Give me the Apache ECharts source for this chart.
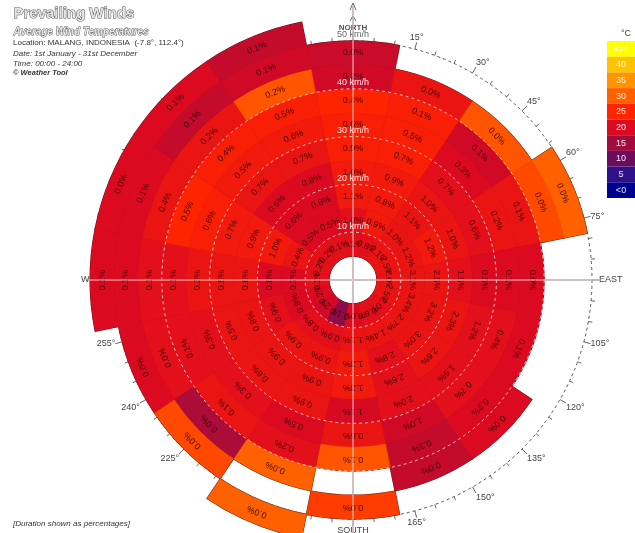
<!DOCTYPE html>
<html>
<head>
<meta charset="utf-8">
<script src="https://cdn.jsdelivr.net/npm/echarts@6/dist/echarts.min.js"></script>
<style>
  html, body { margin: 0; padding: 0; background: #ffffff; }
  #chart { width: 635px; height: 533px; }
</style>
</head>
<body>
<div id="chart"></div>
<script>
// Sixteen compass sectors, clockwise from north
const directions = ['N','NNE','NE','ENE','E','ESE','SE','SSE','S','SSW','SW','WSW','W','WNW','NW','NNW'];
// Lower edge of each 5 km/h speed band (0-5 km/h is calm, left empty)
const bandStarts = [5, 10, 15, 20, 25, 30, 35, 40, 45, 50];
const bandWidth = 5;

// Share of time (%) per speed band, inner to outer; null = no record
const pctN   = [1.1, 1.0, 1.1, 1.0, 0.9, 0.6, 0.4, 0.2, 0.0, null];
const pctNNE = [0.8, 0.9, 0.8, 0.9, 0.7, 0.5, 0.1, 0.0, null, null];
const pctNE  = [2.1, 1.0, 1.1, 1.0, 0.7, 0.3, 0.1, 0.0, null, null];
const pctENE = [2.5, 1.2, 1.2, 1.0, 0.6, 0.2, 0.1, 0.0, 0.0, null];
const pctE   = [2.0, 3.1, 2.5, 1.5, 0.5, 0.1, 0.0, null, null, null];
const pctESE = [2.5, 3.4, 3.2, 2.3, 1.2, 0.4, 0.1, null, null, null];
const pctSE  = [2.0, 2.7, 3.0, 2.6, 1.6, 0.7, 0.2, 0.0, null, null];
const pctSSE = [0.6, 1.4, 2.8, 2.6, 2.0, 1.0, 0.3, 0.0, null, null];
const pctS   = [0.0, 1.1, 1.3, 1.3, 1.1, 0.6, 0.1, null, 0.0, null];
const pctSSW = [0.1, 0.9, 0.9, 0.9, 0.9, 0.5, 0.2, 0.0, null, 0.0];
const pctSW  = [0.2, 0.8, 0.9, 0.9, 0.6, 0.3, 0.1, 0.0, 0.0, null];
const pctWSW = [0.2, 0.8, 0.9, 0.8, 0.5, 0.3, 0.1, 0.0, 0.0, null];
const pctW   = [0.2, 0.7, 0.8, 0.6, 0.5, 0.3, 0.1, 0.1, 0.1, 0.1];
const pctWNW = [0.2, 0.4, 1.0, 0.9, 0.7, 0.6, 0.5, 0.4, 0.1, 0.0];
const pctNW  = [0.2, 0.5, 0.6, 0.6, 0.7, 0.5, 0.4, 0.2, 0.1, 0.1];
const pctNNW = [0.1, 0.5, 0.8, 0.8, 0.7, 0.6, 0.5, 0.2, 0.1, 0.1];

// Average temperature (°C) of the same cells
const tempN   = [21, 21, 23, 23, 24, 24, 25, 19, 18.5, null];
const tempNNE = [21, 23, 23, 23, 24, 24, 24, 22, null, null];
const tempNE  = [22, 22, 22, 22, 21, 20, 19, 29, null, null];
const tempENE = [22, 22, 23, 22, 21, 22, 22, 28, 30, null];
const tempE   = [22, 22, 22, 21, 20, 20, 20, null, null, null];
const tempESE = [22, 22, 22, 22, 21, 21, 20, null, null, null];
const tempSE  = [21, 22, 22, 22, 21, 21, 20, 20, null, null];
const tempSSE = [21, 22, 21, 21, 21, 19, 18, 18, null, null];
const tempS   = [20, 22, 23, 23, 19.5, 22, 29, null, 27, null];
const tempSSW = [13, 21, 22, 22, 22, 20, 21, 30, null, 30];
const tempSW  = [19, 21, 22, 22, 22, 21, 22, 16, 28, null];
const tempWSW = [20, 20, 21, 22, 22, 21, 21, 21, 20, null];
const tempW   = [21, 20, 20, 22, 22, 22, 21, 21, 20, 20];
const tempWNW = [21, 22, 23, 23, 23, 24, 25, 22, 20, 20];
const tempNW  = [21, 20, 20, 20, 22, 23, 24, 22, 18, 20];
const tempNNW = [21, 20, 20, 20, 22, 23, 24, 29, 19, 18];

const pctByDir  = [pctN, pctNNE, pctNE, pctENE, pctE, pctESE, pctSE, pctSSE, pctS, pctSSW, pctSW, pctWSW, pctW, pctWNW, pctNW, pctNNW];
const tempByDir = [tempN, tempNNE, tempNE, tempENE, tempE, tempESE, tempSE, tempSSE, tempS, tempSSW, tempSW, tempWSW, tempW, tempWNW, tempNW, tempNNW];

// Dashed speed rings (km/h)
const ringSpeeds = [10, 20, 30, 40, 50];

// Temperature legend, top to bottom
const legendLabels = ['45+', '40', '35', '30', '25', '20', '15', '10', '5', '<0'];
const legendColors = ['#ffff00', '#ffc400', '#ff9400', '#ff6000', '#ff2400', '#dc0a20', '#a00c3e', '#6c0c5c', '#30108a', '#000090'];

// Layout constants
const CX = 353, CY = 280;          // rose centre
const PX_PER_KMH = 4.78;           // radial scale
const FRAME_MAX = 50;              // outer compass ring speed
const DATA_MAX = 55;               // outermost band edge

// Flatten into [direction, bandLow, bandHigh, temp, pct]
const cells = [];
pctByDir.forEach(function (arr, i) {
  arr.forEach(function (p, k) {
    if (p !== null) {
      cells.push([i, bandStarts[k], bandStarts[k] + bandWidth, tempByDir[i][k], p]);
    }
  });
});

function sectorGeom(params, api) {
  const cs = params.coordSys;
  const i = api.value(0);
  const p0 = api.coord([api.value(1), i]);
  const p1 = api.coord([api.value(2), i]);
  const r0 = Math.hypot(p0[0] - cs.cx, p0[1] - cs.cy);
  const r1 = Math.hypot(p1[0] - cs.cx, p1[1] - cs.cy);
  const mid = Math.atan2(p1[1] - cs.cy, p1[0] - cs.cx);
  const half = api.size([0, 1])[1] / 2;
  return { cx: cs.cx, cy: cs.cy, r0: r0, r: r1, mid: mid, half: half };
}

function renderOutline(params, api) {
  const g = sectorGeom(params, api);
  return {
    type: 'sector',
    shape: { cx: g.cx, cy: g.cy, r0: g.r0, r: g.r, startAngle: g.mid - g.half, endAngle: g.mid + g.half, clockwise: true },
    style: { fill: 'none', stroke: '#5a1a1a', lineWidth: 1.2 }
  };
}

function renderCell(params, api) {
  const g = sectorGeom(params, api);
  const rm = (g.r0 + g.r) / 2;
  const pct = api.value(4);
  return {
    type: 'group',
    children: [
      {
        type: 'sector',
        shape: { cx: g.cx, cy: g.cy, r0: g.r0, r: g.r, startAngle: g.mid - g.half, endAngle: g.mid + g.half, clockwise: true },
        style: { fill: api.visual('color'), stroke: api.visual('color'), lineWidth: 0.4 }
      },
      {
        type: 'text',
        x: g.cx + rm * Math.cos(g.mid),
        y: g.cy + rm * Math.sin(g.mid),
        rotation: -(g.mid + Math.PI / 2),
        style: {
          text: pct.toFixed(1) + '%',
          font: '9px "Liberation Sans", Arial, sans-serif',
          fill: 'rgba(45,0,0,0.85)',
          align: 'center',
          verticalAlign: 'middle'
        }
      }
    ]
  };
}

function renderRing(params, api) {
  const cs = params.coordSys;
  const v = api.value(0);
  const p = api.coord([v, 0]);
  const r = Math.hypot(p[0] - cs.cx, p[1] - cs.cy);
  const children = [];
  if (v < FRAME_MAX) {
    children.push({
      type: 'circle',
      shape: { cx: cs.cx, cy: cs.cy, r: r },
      style: { fill: 'none', stroke: 'rgba(255,235,235,0.8)', lineWidth: 1, lineDash: [3, 3] }
    });
  }
  children.push({
    type: 'text',
    x: cs.cx, y: cs.cy - r - 6,
    style: {
      text: v + ' km/h',
      font: '9px "Liberation Sans", Arial, sans-serif',
      fill: v < FRAME_MAX ? 'rgba(255,240,240,0.95)' : '#666',
      align: 'center', verticalAlign: 'middle'
    }
  });
  return { type: 'group', children: children };
}

const chart = echarts.init(document.getElementById('chart'), null, { renderer: 'canvas' });

const textFont = '"Liberation Sans", Arial, sans-serif';

chart.setOption({
  backgroundColor: '#ffffff',
  animation: false,
  polar: [
    { center: [CX, CY], radius: FRAME_MAX * PX_PER_KMH },
    { center: [CX, CY], radius: DATA_MAX * PX_PER_KMH }
  ],
  angleAxis: [
    {
      polarIndex: 0, type: 'value', min: 0, max: 360, interval: 15,
      startAngle: 90, clockwise: true, z: 0,
      axisLine: { show: true, lineStyle: { color: '#555', type: [3, 3], width: 1 } },
      axisTick: { show: true, length: 7, lineStyle: { color: '#666' } },
      minorTick: { show: true, splitNumber: 3, length: 4, lineStyle: { color: '#666' } },
      splitLine: { show: false },
      axisLabel: {
        show: true, margin: 7, color: '#444', fontSize: 9, fontFamily: textFont,
        formatter: function (v) {
          if (v === 0 || v === 360) return '';
          if (v === 90) return 'EAST';
          if (v === 180) return 'SOUTH';
          if (v === 270) return 'WEST';
          return v + '°';
        }
      }
    },
    {
      polarIndex: 1, type: 'category', data: directions, startAngle: 101.25, clockwise: true,
      show: false
    }
  ],
  radiusAxis: [
    { polarIndex: 0, min: 0, max: FRAME_MAX, show: false },
    { polarIndex: 1, min: 0, max: DATA_MAX, show: false }
  ],
  visualMap: {
    type: 'continuous', show: false, min: 0, max: 45, dimension: 3, seriesIndex: [1],
    inRange: { color: legendColors.slice().reverse() }
  },
  series: [
    {
      type: 'custom', coordinateSystem: 'polar', polarIndex: 1, z: 2, silent: true,
      dimensions: ['dir', 'low', 'high', 'temp', 'pct'],
      encode: { angle: 0, radius: 1 },
      renderItem: renderOutline, data: cells
    },
    {
      type: 'custom', coordinateSystem: 'polar', polarIndex: 1, z: 3, silent: true,
      dimensions: ['dir', 'low', 'high', 'temp', 'pct'],
      encode: { angle: 0, radius: 1 },
      renderItem: renderCell, data: cells
    },
    {
      type: 'custom', coordinateSystem: 'polar', polarIndex: 1, z: 5, silent: true,
      encode: { radius: 0, angle: 1 },
      renderItem: renderRing, data: ringSpeeds.map(function (v) { return [v, 0]; })
    }
  ],
  graphic: [
    // crosshair: grey underneath, pale over the cells
    { type: 'line', z: 1, shape: { x1: CX, y1: 6, x2: CX, y2: 533 }, style: { stroke: '#8a8a8a', lineWidth: 1.5 } },
    { type: 'line', z: 1, shape: { x1: 88, y1: CY, x2: 600, y2: CY }, style: { stroke: '#8a8a8a', lineWidth: 1.5 } },
    { type: 'line', z: 100, shape: { x1: CX, y1: 6, x2: CX, y2: 533 }, style: { stroke: 'rgba(255,225,225,0.6)', lineWidth: 1.5 } },
    { type: 'line', z: 100, shape: { x1: 88, y1: CY, x2: 600, y2: CY }, style: { stroke: 'rgba(255,225,225,0.6)', lineWidth: 1.5 } },
    // white calm hole
    { type: 'circle', z: 90, shape: { cx: CX, cy: CY, r: 23 }, style: { fill: '#ffffff' } },
    { type: 'line', z: 91, shape: { x1: CX, y1: CY - 23, x2: CX, y2: CY + 23 }, style: { stroke: '#8a8a8a', lineWidth: 1.5 } },
    { type: 'line', z: 91, shape: { x1: CX - 23, y1: CY, x2: CX + 23, y2: CY }, style: { stroke: '#8a8a8a', lineWidth: 1.5 } },
    // north arrow
    { type: 'polyline', z: 10, shape: { points: [[CX - 3, 10], [CX, 3], [CX + 3, 10]] }, style: { stroke: '#666', fill: 'none', lineWidth: 1 } },
    { type: 'polyline', z: 10, shape: { points: [[CX - 3, 21], [CX, 16], [CX + 3, 21]] }, style: { stroke: '#666', fill: 'none', lineWidth: 1 } },
    { type: 'text', z: 10, x: CX, y: 28, style: { text: 'NORTH', font: 'bold 8px ' + textFont, fill: '#555', align: 'center', verticalAlign: 'middle' } },
    // titles
    { type: 'text', left: 13, top: 6, style: { text: 'Prevailing Winds', font: 'bold 15px ' + textFont, fill: '#e4e4e4', stroke: '#555', lineWidth: 1 } },
    { type: 'text', left: 13, top: 27, style: { text: 'Average Wind Temperatures', font: 'italic bold 10px ' + textFont, fill: '#e4e4e4', stroke: '#555', lineWidth: 0.8 } },
    { type: 'text', left: 13, top: 39, style: { text: 'Location: MALANG, INDONESIA  (-7.8°, 112.4°)', font: '8px ' + textFont, fill: '#333' } },
    { type: 'text', left: 13, top: 50, style: { text: 'Date: 1st January - 31st December', font: 'italic 8px ' + textFont, fill: '#333' } },
    { type: 'text', left: 13, top: 60, style: { text: 'Time: 00:00 - 24:00', font: 'italic 8px ' + textFont, fill: '#333' } },
    { type: 'text', left: 13, top: 69, style: { text: '© Weather Tool', font: 'italic bold 7.5px ' + textFont, fill: '#333' } },
    { type: 'text', left: 13, top: 520, style: { text: '[Duration shown as percentages]', font: 'italic 8px ' + textFont, fill: '#333' } },
    // temperature legend
    { type: 'text', x: 626, y: 34, style: { text: '°C', font: '9px ' + textFont, fill: '#444', align: 'center', verticalAlign: 'middle' } }
  ].concat(legendLabels.map(function (lab, j) {
    return {
      type: 'group', x: 607, y: 41 + j * 15.7,
      children: [
        { type: 'rect', shape: { x: 0, y: 0, width: 28, height: 15.7 }, style: { fill: legendColors[j] } },
        { type: 'text', x: 14, y: 8, style: { text: lab, font: '9px ' + textFont, fill: 'rgba(255,255,255,0.9)', align: 'center', verticalAlign: 'middle' } }
      ]
    };
  }))
});
</script>
</body>
</html>
